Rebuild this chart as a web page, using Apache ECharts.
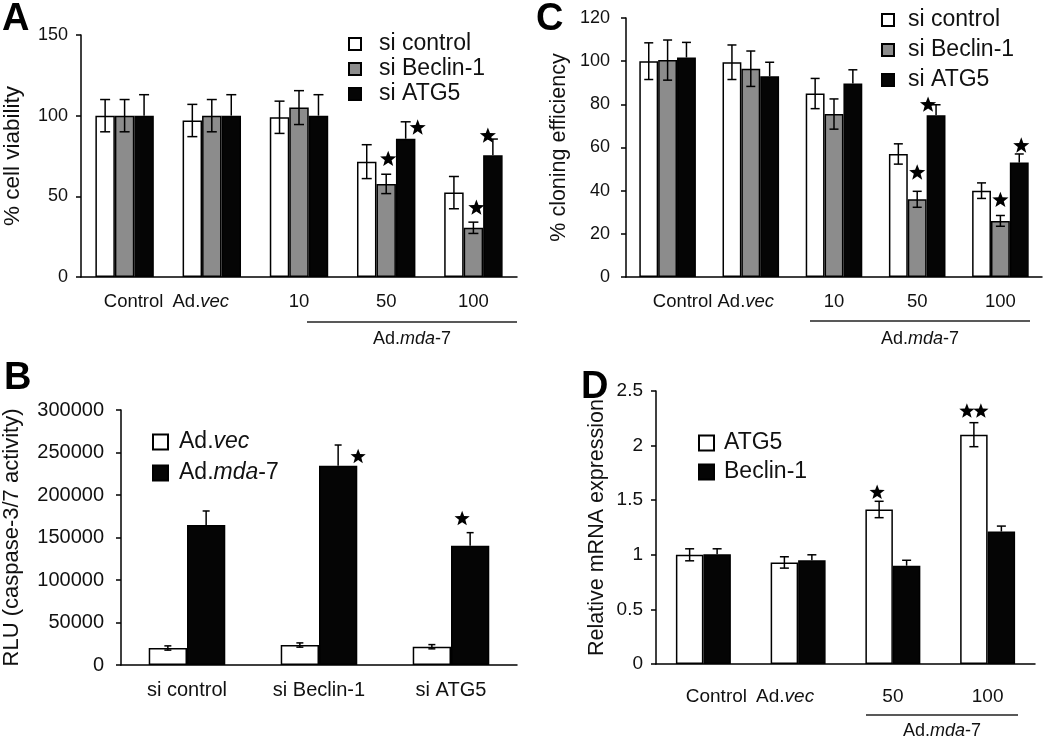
<!DOCTYPE html>
<html>
<head>
<meta charset="utf-8">
<script src="https://cdn.jsdelivr.net/npm/echarts@6/dist/echarts.min.js"></script>
<style>
  html, body { margin: 0; background: #fff; }
  #chart { width: 1050px; height: 739px; }
</style>
</head>
<body>
<div id="chart"></div>
<script>
// panel A - cell viability
const viabilityGroups = ['Control', 'Ad.vec', '10', '50', '100'];
const knockdownNames = ['si control', 'si Beclin-1', 'si ATG5'];
const viabilityControl = [100, 97, 99, 71.5, 52.3];
const viabilityBeclin = [100, 100, 105, 57.7, 30.5];
const viabilityAtg5 = [100, 100, 100, 85.7, 75.5];
const viabilityControlErr = [10, 10, 10, 10.5, 10];
const viabilityBeclinErr = [10, 10, 10.5, 6, 3.5];
const viabilityAtg5Err = [13, 13, 13, 10.5, 10];
const viabilityStars = [[3, 1, 73], [3, 2, 92.5], [4, 1, 42.8], [4, 2, 87.4]]; // [group, bar, y]

// panel C - cloning efficiency
const cloningControl = [100, 99.5, 85, 57, 40];
const cloningBeclin = [100.5, 96.5, 75.5, 36, 26];
const cloningAtg5 = [101.7, 93, 89.7, 75, 53];
const cloningControlErr = [8.5, 8, 7, 4.7, 3.6];
const cloningBeclinErr = [9.3, 8.2, 7, 3.7, 2.5];
const cloningAtg5Err = [7, 6.5, 6.3, 4.8, 4];
const cloningStars = [[3, 1, 48.3], [3, 2, 79.7], [4, 1, 35.6], [4, 2, 60.8]];

// panel B - caspase 3/7
const caspaseGroups = ['si control', 'si Beclin-1', 'si ATG5'];
const adNames = ['Ad.vec', 'Ad.mda-7'];
const rluVec = [20000, 23500, 21500];
const rluMda7 = [164700, 234500, 140400];
const rluVecErr = [2500, 2500, 2500];
const rluMda7Err = [16500, 24300, 15300];
const rluStars = [[1, 1, 245000], [2, 1, 172000]];

// panel D - mRNA
const mrnaGroups = ['Control', 'Ad.vec', '50', '100'];
const mrnaNames = ['ATG5', 'Beclin-1'];
const mrnaAtg5 = [1.0, 0.93, 1.415, 2.1];
const mrnaBeclin = [1.005, 0.95, 0.9, 1.213];
const mrnaAtg5Err = [0.055, 0.052, 0.075, 0.11];
const mrnaBeclinErr = [0.05, 0.05, 0.05, 0.05];
const mrnaStars = [[2, 0, 1.57, 1], [3, 0, 2.314, 2]]; // [group, bar, y, count]

const FONT = '"Liberation Sans", Arial, sans-serif';
const FILLS3 = ['#ffffff', '#8c8c8c', '#050505'];
const FILLS2 = ['#ffffff', '#050505'];

const chart = echarts.init(document.getElementById('chart'));

function errorSeries(g, vals, errs, slot, nSlots, gap, cap, lowerToo) {
  return {
    type: 'custom', xAxisIndex: g, yAxisIndex: g, z: 5, silent: true,
    data: vals.map((v, i) => [i, v, errs[i]]),
    renderItem: (params, api) => {
      const c = api.value(0), v = api.value(1), e = api.value(2);
      const bw = api.size([1, 0])[0] * (1 - gap) / nSlots;
      const x = api.coord([c, 0])[0] + (slot - (nSlots - 1) / 2) * bw;
      const yTop = api.coord([c, v + e])[1];
      const yBot = api.coord([c, lowerToo ? v - e : v])[1];
      const st = { stroke: '#000', lineWidth: 1.5 };
      const ch = [
        { type: 'line', shape: { x1: x, y1: yTop, x2: x, y2: yBot }, style: st },
        { type: 'line', shape: { x1: x - cap / 2, y1: yTop, x2: x + cap / 2, y2: yTop }, style: st }
      ];
      if (lowerToo) ch.push({ type: 'line', shape: { x1: x - cap / 2, y1: yBot, x2: x + cap / 2, y2: yBot }, style: st });
      return { type: 'group', children: ch };
    }
  };
}

function starPoints(cx, cy, R) {
  const pts = [];
  for (let k = 0; k < 10; k++) {
    const r = k % 2 ? R * 0.42 : R;
    const a = -Math.PI / 2 + k * Math.PI / 5;
    pts.push([cx + r * Math.cos(a), cy + r * Math.sin(a)]);
  }
  return pts;
}

// shifts: pixel nudge of each star sideways from its bar centre
function starSeries(g, stars, nSlots, gap, R, shifts) {
  return {
    type: 'custom', xAxisIndex: g, yAxisIndex: g, z: 6, silent: true,
    data: stars.map(s => [s[0], s[2], s[1], s[3] || 1]),
    renderItem: (params, api) => {
      const c = api.value(0), y = api.value(1), slot = api.value(2), n = api.value(3);
      const bw = api.size([1, 0])[0] * (1 - gap) / nSlots;
      const x = api.coord([c, 0])[0] + (slot - (nSlots - 1) / 2) * bw + shifts[params.dataIndex];
      const py = api.coord([c, y])[1];
      const ch = [];
      for (let k = 0; k < n; k++) {
        const cx = x + (k - (n - 1) / 2) * R * 1.75;
        ch.push({ type: 'polygon', shape: { points: starPoints(cx, py, R) }, style: { fill: '#000' } });
      }
      return { type: 'group', children: ch };
    }
  };
}

function barSeries(g, names, fills, valueLists, gap) {
  return valueLists.map((vals, s) => ({
    type: 'bar', name: names[s], xAxisIndex: g, yAxisIndex: g, data: vals,
    barGap: '0%', barCategoryGap: (gap * 100) + '%', silent: true,
    itemStyle: { color: fills[s], borderColor: '#000', borderWidth: 1.5 }
  }));
}

// x label nudges (px): positive moves right
function xLabelFormatter(nudges) {
  return (value, idx) => {
    const d = nudges[idx] || 0;
    let txt = value === 'Ad.vec' ? 'Ad.{i|vec}' : value;
    if (d > 0) txt = '{p' + (2 * d) + '| }' + txt;
    if (d < 0) txt = txt + '{p' + (-2 * d) + '| }';
    return txt;
  };
}
function padRich(list) {
  const r = { i: { fontStyle: 'italic' } };
  list.forEach(w => { r['p' + w] = { width: w }; });
  return r;
}

function xAxisCfg(g, cats, fontSize, margin, nudges) {
  return {
    type: 'category', gridIndex: g, data: cats,
    axisLine: { lineStyle: { color: '#000', width: 1.5 } },
    axisTick: { length: 8, lineStyle: { color: '#000', width: 1.5 } },
    axisLabel: {
      interval: 0, hideOverlap: false,
      fontFamily: FONT, fontSize: fontSize, color: '#111', margin: margin,
      formatter: xLabelFormatter(nudges),
      rich: padRich(nudges.filter(d => d).map(d => Math.abs(d) * 2))
    }
  };
}

function yAxisCfg(g, max, interval, fontSize, margin, name, nameSize, nameGap) {
  return {
    type: 'value', gridIndex: g, min: 0, max: max, interval: interval,
    splitLine: { show: false },
    axisLine: { show: true, lineStyle: { color: '#000', width: 1.5 } },
    axisTick: { show: true, length: 5, lineStyle: { color: '#000', width: 1.5 } },
    axisLabel: { fontFamily: FONT, fontSize: fontSize, color: '#111', margin: margin, formatter: v => String(v) },
    name: name, nameLocation: 'middle', nameGap: nameGap,
    nameTextStyle: { fontFamily: FONT, fontSize: nameSize, color: '#111' }
  };
}

function legendCfg(names, left, top, icon, gapY, textPad) {
  return {
    data: names, orient: 'vertical', left: left, top: top,
    icon: 'rect', itemWidth: icon, itemHeight: icon, itemGap: gapY, selectedMode: false,
    formatter: n => '{g| }' + (n === 'Ad.vec' ? 'Ad.{i|vec}' : n === 'Ad.mda-7' ? 'Ad.{i|mda}-7' : n),
    textStyle: {
      fontFamily: FONT, fontSize: 23, color: '#111', lineHeight: 24,
      rich: { g: { width: textPad }, i: { fontStyle: 'italic' } }
    }
  };
}

function bracket(x1, x2, y, ty) {
  return [
    { type: 'line', shape: { x1: x1, y1: y, x2: x2, y2: y }, style: { stroke: '#222', lineWidth: 1.5 } },
    {
      type: 'text', x: (x1 + x2) / 2, y: ty,
      style: {
        text: 'Ad.{i|mda}-7', font: '18px ' + FONT, fill: '#111',
        align: 'center', verticalAlign: 'middle',
        rich: { i: { font: 'italic 18px ' + FONT } }
      }
    }
  ];
}

function panelLetter(t, x, y) {
  return {
    type: 'text', x: x, y: y,
    style: { text: t, font: 'bold 38px ' + FONT, fill: '#000', verticalAlign: 'middle' }
  };
}

const gapA = 0.33, gapC = 0.32, gapB = 0.42, gapD = 0.42;

const series = [].concat(
  barSeries(0, knockdownNames, FILLS3, [viabilityControl, viabilityBeclin, viabilityAtg5], gapA),
  [errorSeries(0, viabilityControl, viabilityControlErr, 0, 3, gapA, 10, true),
   errorSeries(0, viabilityBeclin, viabilityBeclinErr, 1, 3, gapA, 10, true),
   errorSeries(0, viabilityAtg5, viabilityAtg5Err, 2, 3, gapA, 10, false),
   starSeries(0, viabilityStars, 3, gapA, 8.5, [2, 12, 3, -5])],
  barSeries(1, knockdownNames, FILLS3, [cloningControl, cloningBeclin, cloningAtg5], gapC),
  [errorSeries(1, cloningControl, cloningControlErr, 0, 3, gapC, 9, true),
   errorSeries(1, cloningBeclin, cloningBeclinErr, 1, 3, gapC, 9, true),
   errorSeries(1, cloningAtg5, cloningAtg5Err, 2, 3, gapC, 9, false),
   starSeries(1, cloningStars, 3, gapC, 8.5, [0, -8, 0, 2])],
  barSeries(2, adNames, FILLS2, [rluVec, rluMda7], gapB),
  [errorSeries(2, rluVec, rluVecErr, 0, 2, gapB, 7, true),
   errorSeries(2, rluMda7, rluMda7Err, 1, 2, gapB, 7, false),
   starSeries(2, rluStars, 2, gapB, 8, [20, -8])],
  barSeries(3, mrnaNames, FILLS2, [mrnaAtg5, mrnaBeclin], gapD),
  [errorSeries(3, mrnaAtg5, mrnaAtg5Err, 0, 2, gapD, 9, true),
   errorSeries(3, mrnaBeclin, mrnaBeclinErr, 1, 2, gapD, 9, false),
   starSeries(3, mrnaStars, 2, gapD, 8, [-2, 0])]
);

chart.setOption({
  animation: false,
  backgroundColor: '#fff',
  grid: [
    { left: 79, top: 35, width: 438, height: 242 },
    { left: 626, top: 18, width: 416, height: 259 },
    { left: 120, top: 410, width: 397, height: 255 },
    { left: 656, top: 391, width: 379, height: 273 }
  ],
  xAxis: [
    xAxisCfg(0, viabilityGroups, 18.5, 15, [9, -11, 0, 0, 0]),
    xAxisCfg(1, viabilityGroups, 18.5, 15, [15, -5, 0, 0, 0]),
    xAxisCfg(2, caspaseGroups, 20, 15, [0, 0, 0]),
    xAxisCfg(3, mrnaGroups, 19, 23, [13, -13, 0, 0])
  ],
  yAxis: [
    yAxisCfg(0, 150, 50, 18, 13, '% cell viability', 22.5, 57),
    yAxisCfg(1, 120, 20, 18, 16, '% cloning efficiency', 21.5, 56),
    yAxisCfg(2, 300000, 50000, 20, 17, 'RLU (caspase-3/7 activity)', 22, 98),
    yAxisCfg(3, 2.5, 0.5, 19, 13, 'Relative mRNA expression', 21.5, 48)
  ],
  legend: [
    legendCfg(knockdownNames, 343, 27, 12, 1, 13),
    legendCfg(knockdownNames, 876, 3, 12, 6, 9),
    legendCfg(adNames, 147, 425, 15, 7, 6),
    legendCfg(mrnaNames, 693, 426, 15, 5, 5)
  ],
  graphic: [
    panelLetter('A', 2, 20),
    panelLetter('C', 536, 20),
    panelLetter('B', 4, 379),
    panelLetter('D', 581, 388)
  ].concat(
    bracket(307, 517, 322, 339),
    bracket(810, 1030, 321, 339),
    bracket(866, 1018, 715, 731)
  ),
  series: series
});
</script>
</body>
</html>
